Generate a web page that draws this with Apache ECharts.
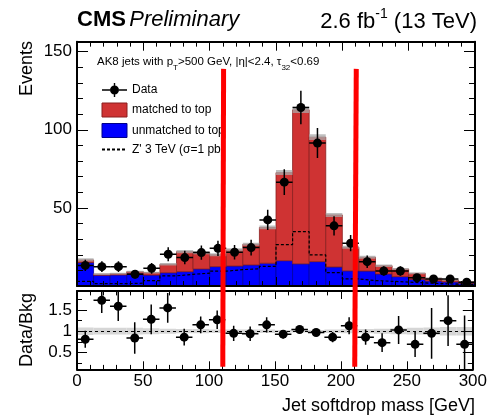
<!DOCTYPE html>
<html>
<head>
<meta charset="utf-8">
<script src="https://cdn.jsdelivr.net/npm/echarts@6/dist/echarts.min.js"></script>
<style>
  html, body { margin: 0; padding: 0; background: #fff; }
  #chart { width: 490px; height: 415px; }
</style>
</head>
<body>
<div id="chart"></div>
<script>
// bin edges of the softdrop mass histogram (GeV)
const binEdges = [0, 12.5, 25, 37.5, 50, 62.5, 75, 87.5, 100, 112.5, 125, 137.5, 150,
  162.5, 175, 187.5, 200, 212.5, 225, 237.5, 250, 262.5, 275, 287.5, 300];

const unmatched = [15.0, 6.9, 7.1, 8.1, 7.0, 8.5, 9.2, 10.9, 12.4, 12.8, 13.5, 14.6,
  16.2, 14.2, 15.6, 12.2, 9.7, 9.6, 7.7, 6.0, 4.3, 3.2, 2.6, 1.7];
const matched = [1.7, 0.7, 0.8, 1.1, 1.6, 5.4, 12.8, 10.5, 7.6, 10.3, 13.2, 22.9,
  56.4, 98.6, 79.7, 33.3, 15.1, 8.8, 5.3, 4.9, 3.8, 1.7, 1.2, 1.1];
const mcUnc = [1.0, 0.6, 0.6, 0.6, 0.6, 0.8, 1.0, 1.0, 1.0, 1.0, 1.0, 1.2,
  1.6, 2.0, 1.8, 1.3, 1.0, 0.9, 0.8, 0.7, 0.6, 0.5, 0.4, 0.3];
const zprime = [3.0, 1.5, 1.5, 1.8, 3.5, 6.5, 7.5, 8.2, 9.5, 10.5, 11.0, 12.5,
  26.5, 34.8, 19.9, 8.5, 4.5, 3.5, 3.0, 2.5, 2.0, 1.5, 1.2, 1.0];
const dataVals = [13.2, 12.4, 12.4, 7.5, 11.3, 20.3, 18.2, 21.4, 24.1, 21.6, 24.6, 42.3,
  66.5, 114.3, 91.5, 38.5, 27.4, 15.6, 9.6, 9.6, 5.3, 4.5, 4.5, 2.4];
const dataErr = [3.6, 3.5, 3.5, 2.7, 3.4, 4.5, 4.3, 4.6, 4.9, 4.6, 5.0, 6.5,
  8.2, 10.7, 9.6, 6.2, 5.2, 4.0, 3.1, 3.1, 2.3, 2.1, 2.1, 1.6];

const ratioVals = [0.81, 1.73, 1.59, 0.84, 1.28, 1.55, 0.86, 1.15, 1.27, 0.95, 0.94, 1.15,
  0.93, 1.04, 0.97, 0.86, 1.13, 0.86, 0.73, 1.03, 0.69, 0.95, 1.25, 0.69];
const ratioErr = [0.2, 0.3, 0.35, 0.37, 0.35, 0.35, 0.2, 0.2, 0.22, 0.18, 0.17, 0.18,
  0.1, 0.08, 0.08, 0.12, 0.2, 0.18, 0.22, 0.33, 0.3, 0.6, 0.6, 0.68];
const ratioBand = [0.09, 0.08, 0.08, 0.08, 0.07, 0.06, 0.05, 0.05, 0.04, 0.04, 0.04, 0.04,
  0.03, 0.03, 0.03, 0.04, 0.05, 0.05, 0.06, 0.07, 0.08, 0.09, 0.1, 0.1];

// tick labels
const mainYLabels = [50, 100, 150];
const mainYMajor = [0, 50, 100, 150];
const mainYMinor = [10, 20, 30, 40, 60, 70, 80, 90, 110, 120, 130, 140];
const ratioYLabels = [0.5, 1, 1.5];
const ratioYMinor = [0.25, 0.75, 1.25, 1.75];

// window cuts drawn as red lines
const cutValues = [110.5, 210.5];

const FONT = 'Liberation Sans, Arial, Helvetica, sans-serif';
const RED = '#cf3333';
const BLUE = '#0000ff';

// build rows for the custom series
const blueRows = unmatched.map((v, i) => [binEdges[i], binEdges[i + 1], 0, v]);
const redRows = matched.map((v, i) => [binEdges[i], binEdges[i + 1], unmatched[i], unmatched[i] + v]);
const uncRows = mcUnc.map((u, i) => {
  const t = unmatched[i] + matched[i];
  return [binEdges[i], binEdges[i + 1], t - u, t + u];
});
const bandRows = ratioBand.map((u, i) => [binEdges[i], binEdges[i + 1], 1 - u, 1 + u]);
const dataRows = dataVals.map((v, i) => [binEdges[i], binEdges[i + 1], v, dataErr[i]]);
const ratioRows = ratioVals.map((v, i) => [binEdges[i], binEdges[i + 1], v, ratioErr[i]]);
const zRows = zprime.map((v, i) => [binEdges[i], v]);
zRows.push([binEdges[binEdges.length - 1], zprime[zprime.length - 1]]);

function rectItem(fill, stroke, lw) {
  return function (params, api) {
    const a = api.coord([api.value(0), api.value(3)]);
    const b = api.coord([api.value(1), api.value(2)]);
    return {
      type: 'rect',
      shape: { x: a[0], y: a[1], width: b[0] - a[0], height: b[1] - a[1] },
      style: { fill: fill, stroke: stroke, lineWidth: lw }
    };
  };
}

function pointItem(params, api) {
  const lo = api.value(0), hi = api.value(1), v = api.value(2), e = api.value(3);
  const c = api.coord([(lo + hi) / 2, v]);
  const l = api.coord([lo, v]);
  const r = api.coord([hi, v]);
  const up = api.coord([(lo + hi) / 2, v + e]);
  const dn = api.coord([(lo + hi) / 2, v - e]);
  const ls = { stroke: '#000', lineWidth: 1.5 };
  return {
    type: 'group',
    children: [
      { type: 'line', shape: { x1: l[0], y1: c[1], x2: r[0], y2: c[1] }, style: ls },
      { type: 'line', shape: { x1: c[0], y1: up[1], x2: c[0], y2: dn[1] }, style: ls },
      { type: 'circle', shape: { cx: c[0], cy: c[1], r: 4.5 }, style: { fill: '#000' } }
    ]
  };
}

const tickLine = { color: '#000', width: 1 };

function xAx(grid, pos, labels, len) {
  return {
    type: 'value', gridIndex: grid, position: pos, min: 0, max: 300, interval: 50, z: 10,
    axisLine: { show: true, onZero: false, lineStyle: { color: '#000', width: 2 } },
    axisTick: { show: true, inside: true, length: len, lineStyle: tickLine },
    minorTick: { show: true, splitNumber: 5, length: len * 0.55, lineStyle: tickLine },
    splitLine: { show: false },
    axisLabel: { show: labels, color: '#000', fontFamily: FONT, fontSize: 17, margin: 4 }
  };
}

function yAx(grid, pos, min, max, ticks, labels, len, line) {
  return {
    type: 'value', gridIndex: grid, position: pos, min: min, max: max, z: 10,
    axisLine: { show: line, onZero: false, lineStyle: { color: '#000', width: 2 } },
    axisTick: { show: true, inside: true, length: len, customValues: ticks, lineStyle: tickLine },
    splitLine: { show: false },
    axisLabel: labels
      ? { show: true, customValues: labels, color: '#000', fontFamily: FONT, fontSize: 17, margin: 5 }
      : { show: false }
  };
}

const chart = echarts.init(document.getElementById('chart'), null, { renderer: 'canvas' });

// marker with error bars, drawn without overlapping sub-paths
const dataIcon = 'path://M0,6.3h8v1.4h-8z M17,6.3h8v1.4h-8z M11.8,0h1.4v2.6h-1.4z M11.8,11.4h1.4v2.6h-1.4z ' +
  'M8,7a4.5,4.5 0 1,0 9,0a4.5,4.5 0 1,0 -9,0z';

const option = {
  animation: false,
  backgroundColor: '#fff',
  grid: [
    { left: 77, top: 41.7, width: 398, height: 244.3 },
    { left: 77, top: 291, width: 398, height: 78.3 }
  ],
  xAxis: [
    xAx(0, 'bottom', false, 9),
    xAx(0, 'top', false, 9),
    xAx(1, 'bottom', true, 8),
    xAx(1, 'top', false, 8)
  ],
  yAxis: [
    yAx(0, 'left', 0, 156.4, mainYMajor, mainYLabels, 11, true),
    yAx(0, 'left', 0, 156.4, mainYMinor, null, 6, false),
    yAx(0, 'right', 0, 156.4, mainYMajor, null, 11, true),
    yAx(0, 'right', 0, 156.4, mainYMinor, null, 6, false),
    yAx(1, 'left', 0.1, 1.95, ratioYLabels, ratioYLabels, 10, true),
    yAx(1, 'left', 0.1, 1.95, ratioYMinor, null, 5, false),
    yAx(1, 'right', 0.1, 1.95, ratioYLabels, null, 10, true),
    yAx(1, 'right', 0.1, 1.95, ratioYMinor, null, 5, false)
  ],
  legend: {
    orient: 'vertical', left: 101, top: 83, padding: 0, itemWidth: 25, itemHeight: 14, itemGap: 5.5,
    selectedMode: false,
    textStyle: { fontFamily: FONT, fontSize: 12, color: '#000' },
    data: [
      { name: 'Data', icon: dataIcon, itemStyle: { color: '#000' } },
      { name: 'matched to top', icon: 'rect', itemStyle: { color: RED, borderColor: '#8a1f1f', borderWidth: 1 } },
      { name: 'unmatched to top', icon: 'rect', itemStyle: { color: BLUE, borderColor: '#00008a', borderWidth: 1 } },
      { name: "Z' 3 TeV (σ=1 pb)", itemStyle: { opacity: 0 } }
    ]
  },
  series: [
    {
      name: 'unmatched to top', type: 'custom', xAxisIndex: 0, yAxisIndex: 0, clip: true,
      renderItem: rectItem(BLUE, '#0000a0', 0.8), encode: { x: [0, 1], y: [2, 3] }, data: blueRows, z: 2
    },
    {
      name: 'matched to top', type: 'custom', xAxisIndex: 0, yAxisIndex: 0, clip: true,
      renderItem: rectItem(RED, '#8a1f1f', 0.8), encode: { x: [0, 1], y: [2, 3] }, data: redRows, z: 2
    },
    {
      name: 'MC unc', type: 'custom', xAxisIndex: 0, yAxisIndex: 0, clip: true,
      renderItem: rectItem('rgba(170,170,170,0.75)', null, 0), encode: { x: [0, 1], y: [2, 3] }, data: uncRows, z: 3
    },
    {
      name: "Z' 3 TeV (σ=1 pb)", type: 'line', xAxisIndex: 0, yAxisIndex: 0, step: 'end',
      symbol: 'none', data: zRows, z: 4,
      lineStyle: { color: '#000', width: 1.2, type: [3, 2] }, itemStyle: { color: '#000' }
    },
    {
      name: 'Data', type: 'custom', xAxisIndex: 0, yAxisIndex: 0, clip: true,
      renderItem: pointItem, encode: { x: [0, 1], y: 2 }, data: dataRows, z: 5
    },
    {
      name: 'ratio band', type: 'custom', xAxisIndex: 2, yAxisIndex: 4, clip: true,
      renderItem: rectItem('#d6d6d6', null, 0), encode: { x: [0, 1], y: [2, 3] }, data: bandRows, z: 2,
      markLine: {
        silent: true, symbol: 'none', label: { show: false },
        lineStyle: { color: '#000', width: 1.2, type: [3, 3] },
        data: [{ yAxis: 1 }]
      }
    },
    {
      name: 'ratio', type: 'custom', xAxisIndex: 2, yAxisIndex: 4, clip: true,
      renderItem: pointItem, encode: { x: [0, 1], y: 2 }, data: ratioRows, z: 5
    }
  ]
};

chart.setOption(option);

// axis titles, header and the two red cut lines
const graphics = [
  {
    type: 'text', x: 77, y: 20, z: 50,
    style: {
      text: '{b|CMS} {i|Preliminary}', verticalAlign: 'middle',
      rich: {
        b: { fontFamily: FONT, fontSize: 22, fontWeight: 'bold', fill: '#000' },
        i: { fontFamily: FONT, fontSize: 22, fontStyle: 'italic', fill: '#000' }
      }
    }
  },
  {
    type: 'text', x: 477, y: 20, z: 50,
    style: {
      text: '{n|2.6 fb}{s|-1}{n| (13 TeV)}', align: 'right', verticalAlign: 'middle',
      rich: {
        n: { fontFamily: FONT, fontSize: 22, fill: '#000', verticalAlign: 'bottom', lineHeight: 25 },
        s: { fontFamily: FONT, fontSize: 14, fill: '#000', verticalAlign: 'top', lineHeight: 25, padding: [0, 0, 6, 0] }
      }
    }
  },
  {
    type: 'text', x: 97, y: 64, z: 50,
    style: {
      text: '{n|AK8 jets with p}{s|T}{n|>500 GeV, |η|<2.4, τ}{s|32}{n|<0.69}', verticalAlign: 'middle',
      rich: {
        n: { fontFamily: FONT, fontSize: 11.5, fill: '#000', verticalAlign: 'top', lineHeight: 16 },
        s: { fontFamily: FONT, fontSize: 8, fill: '#000', verticalAlign: 'bottom', lineHeight: 16, padding: [6, 0, 0, 0] }
      }
    }
  },
  {
    type: 'text', x: 27, y: 41, rotation: Math.PI / 2, z: 50,
    style: { text: 'Events', fontFamily: FONT, fontSize: 18, fill: '#000', align: 'right', verticalAlign: 'middle' }
  },
  {
    type: 'text', x: 27, y: 330, rotation: Math.PI / 2, z: 50,
    style: { text: 'Data/Bkg', fontFamily: FONT, fontSize: 18, fill: '#000', align: 'center', verticalAlign: 'middle' }
  },
  {
    type: 'text', x: 475, y: 406, z: 50,
    style: { text: 'Jet softdrop mass [GeV]', fontFamily: FONT, fontSize: 18, fill: '#000', align: 'right', verticalAlign: 'middle' }
  }
];

cutValues.forEach(function (v) {
  const top = chart.convertToPixel({ xAxisIndex: 0, yAxisIndex: 0 }, [v, 139]);
  const bot = chart.convertToPixel({ xAxisIndex: 2, yAxisIndex: 4 }, [v, 0.16]);
  graphics.push({
    type: 'line', z: 100,
    shape: { x1: top[0], y1: top[1], x2: bot[0], y2: bot[1] },
    style: { stroke: '#ff0000', lineWidth: 5 }
  });
});

chart.setOption({ graphic: graphics });

window.addEventListener('resize', function () { chart.resize(); });
</script>
</body>
</html>
